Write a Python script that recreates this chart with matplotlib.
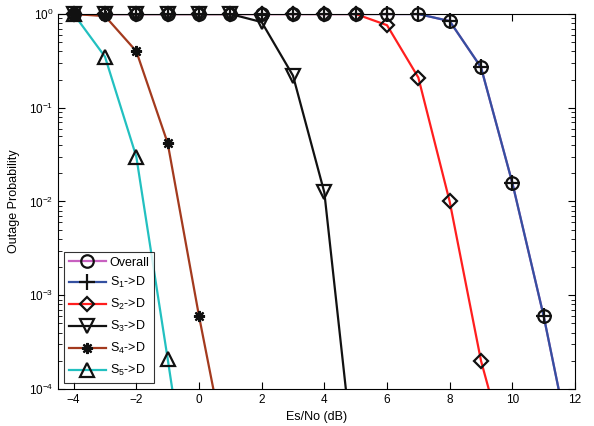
import numpy as np
import matplotlib
matplotlib.use("Agg")
import matplotlib.pyplot as plt

plt.rcParams['font.family'] = ['Liberation Sans', 'DejaVu Sans']
plt.rcParams['mathtext.fontset'] = 'custom'
plt.rcParams['mathtext.rm'] = 'Liberation Sans'
plt.rcParams['mathtext.it'] = 'Liberation Sans'

snr = np.arange(-4, 13)
overall = [1, 1, 1, 1, 1, 1, 1, 1, 1, 1, 1, 1, 0.84, 0.27, 0.0158, 6e-4, 1.4e-5]
s1 = [1, 1, 1, 1, 1, 1, 1, 1, 1, 1, 1, 1, 0.84, 0.27, 0.0158, 6e-4, 1.4e-5]
s2 = [1, 1, 1, 1, 1, 1, 1, 1, 1, 1, 0.76, 0.21, 0.01, 2e-4, 1.2e-5, 1e-7, 1e-9]
s3 = [1, 1, 1, 1, 1, 1, 0.82, 0.22, 0.0125, 1.1e-5, 1e-8, 1e-9, 1e-9, 1e-9, 1e-9, 1e-9, 1e-9]
s4 = [1, 0.95, 0.40, 0.042, 6e-4, 1.2e-5, 1e-8, 1e-9, 1e-9, 1e-9, 1e-9, 1e-9, 1e-9, 1e-9, 1e-9, 1e-9, 1e-9]
s5 = [1, 0.35, 0.030, 2.1e-4, 1.3e-6, 1e-8, 1e-9, 1e-9, 1e-9, 1e-9, 1e-9, 1e-9, 1e-9, 1e-9, 1e-9, 1e-9, 1e-9]

labels = ['Overall', 'S$_1$->D', 'S$_2$->D', 'S$_3$->D', 'S$_4$->D', 'S$_5$->D']
series = [overall, s1, s2, s3, s4, s5]
colors = ['#C860C0', '#3450A0', '#FF1E1E', '#111111', '#A33A1E', '#22C0C0']
markers = ['o', '+', 'D', 'v', (8, 2, 0), '^']
msizes = [9, 11, 7, 10, 8, 10]

fig = plt.figure(figsize=(5.94, 4.26), dpi=100)
ax = fig.add_axes([58/594, 1 - 389/426, (575-58)/594, (389-14)/426])
ax.set_yscale('log')
ymin = 1e-4
handles = []
for y, c, m, ms, lab in zip(series, colors, markers, msizes, labels):
    y = np.array(y, dtype=float)
    ax.plot(snr, y, '-', color=c, lw=1.6, zorder=2)
    vis = y >= ymin
    ax.plot(snr[vis], y[vis], ls='none', marker=m, ms=ms, mfc='none', mec='#111111',
            mew=1.6, clip_on=False, zorder=3)
    h, = ax.plot([], [], '-', color=c, lw=1.6, marker=m, ms=ms, mfc='none',
                 mec='#111111', mew=1.6)
    handles.append(h)

ax.set_xlim(-4.5, 12)
ax.set_ylim(1e-4, 1)
ax.set_xticks(np.arange(-4, 13, 2))
ax.tick_params(which='both', direction='in', top=True, right=True, labelsize=8.5)
ax.tick_params(which='major', length=5)
ax.tick_params(which='minor', length=3)
ax.set_xlabel('Es/No (dB)', fontsize=9, labelpad=4)
ax.set_ylabel('Outage Probability', fontsize=9, labelpad=6)
for s in ax.spines.values():
    s.set_linewidth(0.8)

leg = ax.legend(handles, labels, loc='lower left', fontsize=9, frameon=True,
                fancybox=False, edgecolor='black', handlelength=3.0,
                borderaxespad=0.5, labelspacing=0.55, handletextpad=0.3,
                borderpad=0.35)
leg.get_frame().set_linewidth(0.8)

fig.savefig('out.png', dpi=100)
